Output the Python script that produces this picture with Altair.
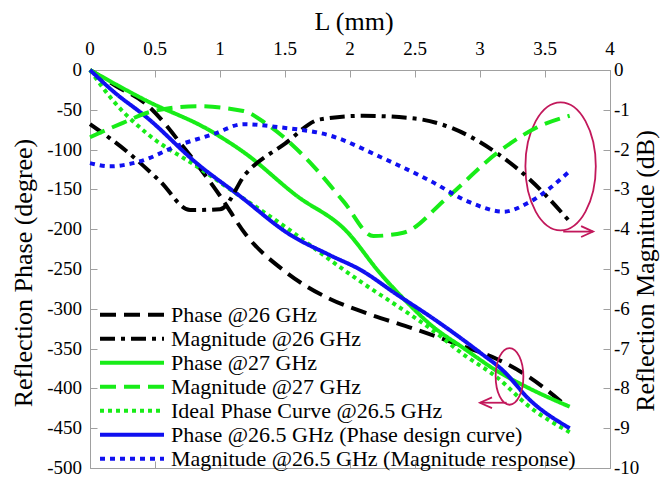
import altair as alt
import pandas as pd

# ---------------- data ----------------
labels = [
    "Phase @26 GHz",
    "Magnitude @26 GHz",
    "Phase @27 GHz",
    "Magnitude @27 GHz",
    "Ideal Phase Curve @26.5 GHz",
    "Phase @26.5 GHz (Phase design curve)",
    "Magnitude @26.5 GHz (Magnitude response)",
]
colors = ["#000000", "#000000", "#18EC18", "#18EC18", "#18EC18", "#1010F0", "#1010F0"]
dashes = [[16, 8], [15, 6, 4, 6], [1, 0], [16, 8], [4, 4], [1, 0], [5, 5]]

# phase curves (degree)
x_p26 = [0, 0.2, 0.44, 0.72, 1.0, 1.2, 1.5, 1.85, 2.1, 2.49, 2.87, 3.13, 3.38, 3.67]
p26 = [0, -20, -44, -97, -158, -207, -253, -288, -304, -325, -347, -363, -386, -423]

x_p27 = [0, 0.44, 0.9, 1.18, 1.59, 1.97, 2.23, 2.44, 2.62, 2.87, 3.13, 3.38, 3.69]
p27 = [0, -39, -74, -103, -158, -202, -255, -292, -320, -349, -378, -400, -423]

x_ideal = [0, 0.18, 0.44, 0.82, 1.15, 1.51, 1.85, 2.1, 2.36, 2.62, 2.87, 3.13, 3.38, 3.69]
ideal = [0, -39, -80, -121, -158, -198, -239, -268, -296, -325, -357, -386, -423, -455]

x_p265 = [0, 0.18, 0.44, 0.82, 1.15, 1.54, 1.85, 2.08, 2.36, 2.62, 2.82, 3.0, 3.18, 3.38, 3.69]
p265 = [0, -27, -60, -117, -158, -207, -233, -251, -282, -310, -333, -355, -378, -414, -450]

# magnitude curves (dB)
x_m26 = [0, 0.3, 0.54, 0.77, 1.0, 1.2, 1.5, 1.77, 2.1, 2.5, 2.8, 3.13, 3.38, 3.68]
m26 = [-1.36, -2.09, -2.8, -3.52, -3.5, -2.6, -1.85, -1.24, -1.15, -1.22, -1.48, -2.09, -2.74, -3.77]

x_m27 = [0, 0.23, 0.49, 0.82, 1.18, 1.36, 1.72, 1.95, 2.18, 2.41, 2.74, 3.13, 3.44, 3.69]
m27 = [-1.69, -1.36, -1.03, -0.91, -1.03, -1.36, -2.42, -3.3, -4.17, -4.09, -3.23, -2.09, -1.44, -1.15]

x_m265 = [0, 0.15, 0.38, 0.69, 0.95, 1.18, 1.46, 1.85, 2.23, 2.62, 2.92, 3.18, 3.38, 3.69]
m265 = [-2.34, -2.42, -2.30, -1.88, -1.61, -1.36, -1.44, -1.65, -2.18, -2.79, -3.32, -3.56, -3.32, -2.54]

# annotations (in L / phase coordinates)
ell_L = [3.62, 3.227]
ell_phase = [-121, -385]
arrow_start = [3.64, 3.205]
arrow_end = [3.87, 3.0]
arrow_phase = [-203, -418]
arrow_angle = [0, 180]

# ticks and titles
x_ticks = [0, 0.5, 1, 1.5, 2, 2.5, 3, 3.5, 4]
x_tick_labels = ["0", "0.5", "1", "1.5", "2", "2.5", "3", "3.5", "4"]
phase_ticks = [-500, -450, -400, -350, -300, -250, -200, -150, -100, -50, 0]
phase_tick_labels = ["-500", "-450", "-400", "-350", "-300", "-250", "-200", "-150", "-100", "-50", "0"]
mag_ticks = [-10, -9, -8, -7, -6, -5, -4, -3, -2, -1, 0]
mag_tick_labels = ["-10", "-9", "-8", "-7", "-6", "-5", "-4", "-3", "-2", "-1", "0"]
x_title = "L (mm)"
left_title = "Reflection Phase (degree)"
right_title = "Reflection Magnitude (dB)"

# ---------------- build tables ----------------
def frame(xs, ys, name, col):
    return pd.DataFrame({"L": xs, col: ys, "series": name})

phase_df = pd.concat([
    frame(x_p26, p26, labels[0], "phase"),
    frame(x_p27, p27, labels[2], "phase"),
    frame(x_ideal, ideal, labels[4], "phase"),
    frame(x_p265, p265, labels[5], "phase"),
], ignore_index=True)

mag_df = pd.concat([
    frame(x_m26, m26, labels[1], "mag"),
    frame(x_m27, m27, labels[3], "mag"),
    frame(x_m265, m265, labels[6], "mag"),
], ignore_index=True)

ell1_df = pd.DataFrame({"L": ell_L[:1], "phase": ell_phase[:1]})
ell2_df = pd.DataFrame({"L": ell_L[1:], "phase": ell_phase[1:]})
rule_df = pd.DataFrame({"L": arrow_start, "L2": arrow_end, "phase": arrow_phase})
head_df = pd.DataFrame({"L": arrow_end, "phase": arrow_phase, "ang": arrow_angle})

xt_df = pd.DataFrame({"L": x_ticks, "lab": x_tick_labels})
pt_df = pd.DataFrame({"phase": phase_ticks, "lab": phase_tick_labels})
mt_df = pd.DataFrame({"mag": mag_ticks, "lab": mag_tick_labels})

# ---------------- styling ----------------
W, H = 520, 398
GREY = "#a0a0a0"
LEG_FONT = "Liberation Serif"
TXT_FONT = "serif"
ANN = "#C2185B"
LFS = 19   # tick label font size
TFS = 26   # axis title font size

x_axis = alt.Axis(
    orient="top", values=x_ticks, labels=False, title=None,
    grid=True, gridDash=[7, H - 14, 7, 3000], gridColor=GREY, gridOpacity=1, gridWidth=1,
    ticks=False, domain=False,
)
x_scale = alt.Scale(domain=[0, 4], nice=False, zero=False)

y_left_axis = alt.Axis(
    orient="left", values=phase_ticks, labels=False, title=None,
    grid=True, gridDash=[7, W - 14, 7, 3000], gridColor=GREY, gridOpacity=1, gridWidth=1,
    ticks=False, domain=False,
)
y_left_scale = alt.Scale(domain=[-500, 0], nice=False, zero=False)

y_right_axis = alt.Axis(
    orient="right", values=mag_ticks, labels=False, title=None,
    grid=False, ticks=False, domain=False,
)
y_right_scale = alt.Scale(domain=[-10, 0], nice=False, zero=False)

legend = alt.Legend(
    orient="none", legendX=8, legendY=233, title=None, symbolType="stroke",
    symbolSize=4096, symbolStrokeWidth=4, labelFont=LEG_FONT, labelFontSize=22,
    labelLimit=700, labelOffset=5, rowPadding=0, clipHeight=23.4, padding=0,
    labelColor="black",
)
color_enc = alt.Color("series:N", scale=alt.Scale(domain=labels, range=colors), legend=legend)
dash_enc = alt.StrokeDash("series:N", scale=alt.Scale(domain=labels, range=dashes), legend=legend)

X = alt.X("L:Q", scale=x_scale, axis=x_axis)
YL = alt.Y("phase:Q", scale=y_left_scale, axis=y_left_axis)
YR = alt.Y("mag:Q", scale=y_right_scale, axis=y_right_axis)

phase_lines = alt.Chart(phase_df).mark_line(strokeWidth=4, interpolate="monotone").encode(
    x=X, y=YL, color=color_enc, strokeDash=dash_enc, detail="series:N"
)

ell1 = alt.Chart(ell1_df).mark_point(
    shape="M 0,-1 A 0.55,1 0 1,1 0,1 A 0.55,1 0 1,1 0,-1 Z",
    size=16384, filled=False, color=ANN, strokeWidth=1.8, opacity=1,
).encode(x=X, y=YL)

ell2 = alt.Chart(ell2_df).mark_point(
    shape="M 0,-1 A 0.49,1 0 1,1 0,1 A 0.49,1 0 1,1 0,-1 Z",
    size=3200, filled=False, color=ANN, strokeWidth=1.8, opacity=1,
).encode(x=X, y=YL)

rules = alt.Chart(rule_df).mark_rule(color=ANN, strokeWidth=1.8).encode(
    x=X, x2="L2:Q", y=YL
)

heads = alt.Chart(head_df).mark_point(
    shape="M -1,-0.45 L 0,0 L -1,0.45", size=576, filled=False,
    color=ANN, strokeWidth=1.8, opacity=1,
).encode(x=X, y=YL, angle=alt.Angle("ang:Q", scale=None))

# tick labels and titles as text marks
top_labels = alt.Chart(xt_df).mark_text(
    font=TXT_FONT, fontSize=LFS, color="black", baseline="bottom", align="center"
).encode(x=X, y=alt.value(-11), text="lab:N")

left_labels = alt.Chart(pt_df).mark_text(
    font=TXT_FONT, fontSize=LFS, color="black", baseline="middle", align="right"
).encode(x=alt.value(-8), y=YL, text="lab:N")

x_title_mark = alt.Chart(pd.DataFrame({"t": [x_title]})).mark_text(
    font=TXT_FONT, fontSize=TFS, color="black", baseline="middle", align="center"
).encode(x=alt.value(W / 2 + 4), y=alt.value(-48), text="t:N")

left_title_mark = alt.Chart(pd.DataFrame({"t": [left_title]})).mark_text(
    font=TXT_FONT, fontSize=TFS, color="black", baseline="middle", align="center", angle=270
).encode(x=alt.value(-66), y=alt.value(H / 2 + 4), text="t:N")

left = alt.layer(phase_lines, ell1, ell2, rules, heads, top_labels, left_labels,
                 x_title_mark, left_title_mark)

mag_lines = alt.Chart(mag_df).mark_line(strokeWidth=4, interpolate="monotone").encode(
    x=X, y=YR, color=color_enc, strokeDash=dash_enc, detail="series:N"
)

right_labels = alt.Chart(mt_df).mark_text(
    font=TXT_FONT, fontSize=LFS, color="black", baseline="middle", align="left"
).encode(x=alt.value(W + 4), y=YR, text="lab:N")

right_title_mark = alt.Chart(pd.DataFrame({"t": [right_title]})).mark_text(
    font=TXT_FONT, fontSize=TFS, color="black", baseline="middle", align="center", angle=270
).encode(x=alt.value(W + 36), y=alt.value(H / 2 + 2), text="t:N")

right = alt.layer(mag_lines, right_labels, right_title_mark)

chart = alt.layer(left, right).resolve_scale(y="independent").properties(
    width=W, height=H,
    autosize=alt.AutoSizeParams(type="none"),
    padding={"left": 82, "top": 62, "right": 51, "bottom": 11},
).configure_view(
    stroke=GREY, strokeWidth=1
)

chart.save("out.html", embed_options={"renderer": "svg", "actions": False})
